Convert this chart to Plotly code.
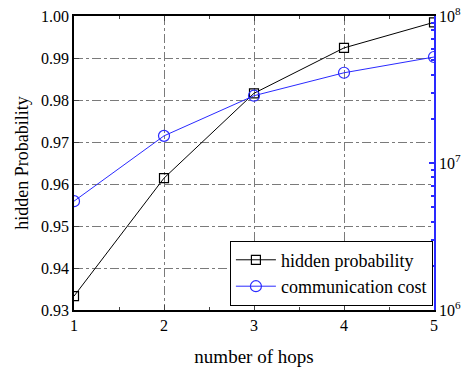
import plotly.graph_objects as go

hops = [1, 2, 3, 4, 5]
hidden_prob = [0.9333, 0.9614, 0.9816, 0.9924, 0.9985]
comm_cost = [5.5e6, 1.53e7, 2.87e7, 4.11e7, 5.26e7]

left_ticks = [0.93, 0.94, 0.95, 0.96, 0.97, 0.98, 0.99, 1.00]
left_labels = ["0.93", "0.94", "0.95", "0.96", "0.97", "0.98", "0.99", "1.00"]
right_ticks = [1e6, 1e7, 1e8]
right_labels = ["10<sup>6</sup>", "10<sup>7</sup>", "10<sup>8</sup>"]
minor_right = [m * 10 ** e for e in (6, 7) for m in range(2, 10)]

FONT = "Liberation Serif, Times New Roman, serif"
GRID = "#7a7a7a"
BLUE = "#2a2aff"

fig = go.Figure()
fig.add_trace(go.Scatter(
    x=hops, y=hidden_prob, name="hidden probability",
    mode="lines+markers",
    line=dict(color="black", width=1),
    marker=dict(symbol="square-open", size=9, color="black", line=dict(width=1.2)),
))
fig.add_trace(go.Scatter(
    x=hops, y=comm_cost, name="communication cost", yaxis="y2",
    mode="lines+markers",
    line=dict(color=BLUE, width=1),
    marker=dict(symbol="circle-open", size=11, color=BLUE, line=dict(width=1.2)),
))

fig.update_layout(
    width=462, height=367,
    margin=dict(l=74, r=28, t=16, b=57),
    paper_bgcolor="white", plot_bgcolor="white",
    font=dict(family=FONT, size=16, color="black"),
    showlegend=True,
    legend=dict(
        x=0.997, y=0.015, xanchor="right", yanchor="bottom",
        bgcolor="white", bordercolor="black", borderwidth=1,
        font=dict(family=FONT, size=18),
        tracegroupgap=0, itemwidth=40,
    ),
    xaxis=dict(
        range=[1, 5], tickvals=hops, ticks="inside", ticklen=5,
        showline=True, linecolor="black", linewidth=1.5, mirror="ticks",
        showgrid=True, gridcolor=GRID, griddash="dashdot", gridwidth=1,
        zeroline=False, automargin=False,
        minor=dict(dtick=0.5, ticks="inside", ticklen=3, showgrid=False),
        title=dict(text="number of hops", font=dict(size=19), standoff=18),
    ),
    yaxis=dict(
        range=[0.93, 1.00], tickvals=left_ticks, ticktext=left_labels,
        ticks="inside", ticklen=5,
        showline=True, linecolor="black", linewidth=1.5,
        showgrid=True, gridcolor=GRID, griddash="dashdot", gridwidth=1,
        zeroline=False, automargin=False,
        title=dict(text="hidden Probability", font=dict(size=18), standoff=8),
    ),
    yaxis2=dict(
        type="log", range=[6, 8], overlaying="y", side="right",
        tickvals=right_ticks, ticktext=right_labels,
        ticks="inside", ticklen=5, tickcolor=BLUE, tickwidth=1.5,
        showline=True, linecolor=BLUE, linewidth=1.5,
        showgrid=False, zeroline=False, automargin=False,
        minor=dict(tickvals=minor_right, ticks="inside", ticklen=3,
                   tickcolor=BLUE, tickwidth=1.5),
    ),
)

fig.write_html("out.html")
